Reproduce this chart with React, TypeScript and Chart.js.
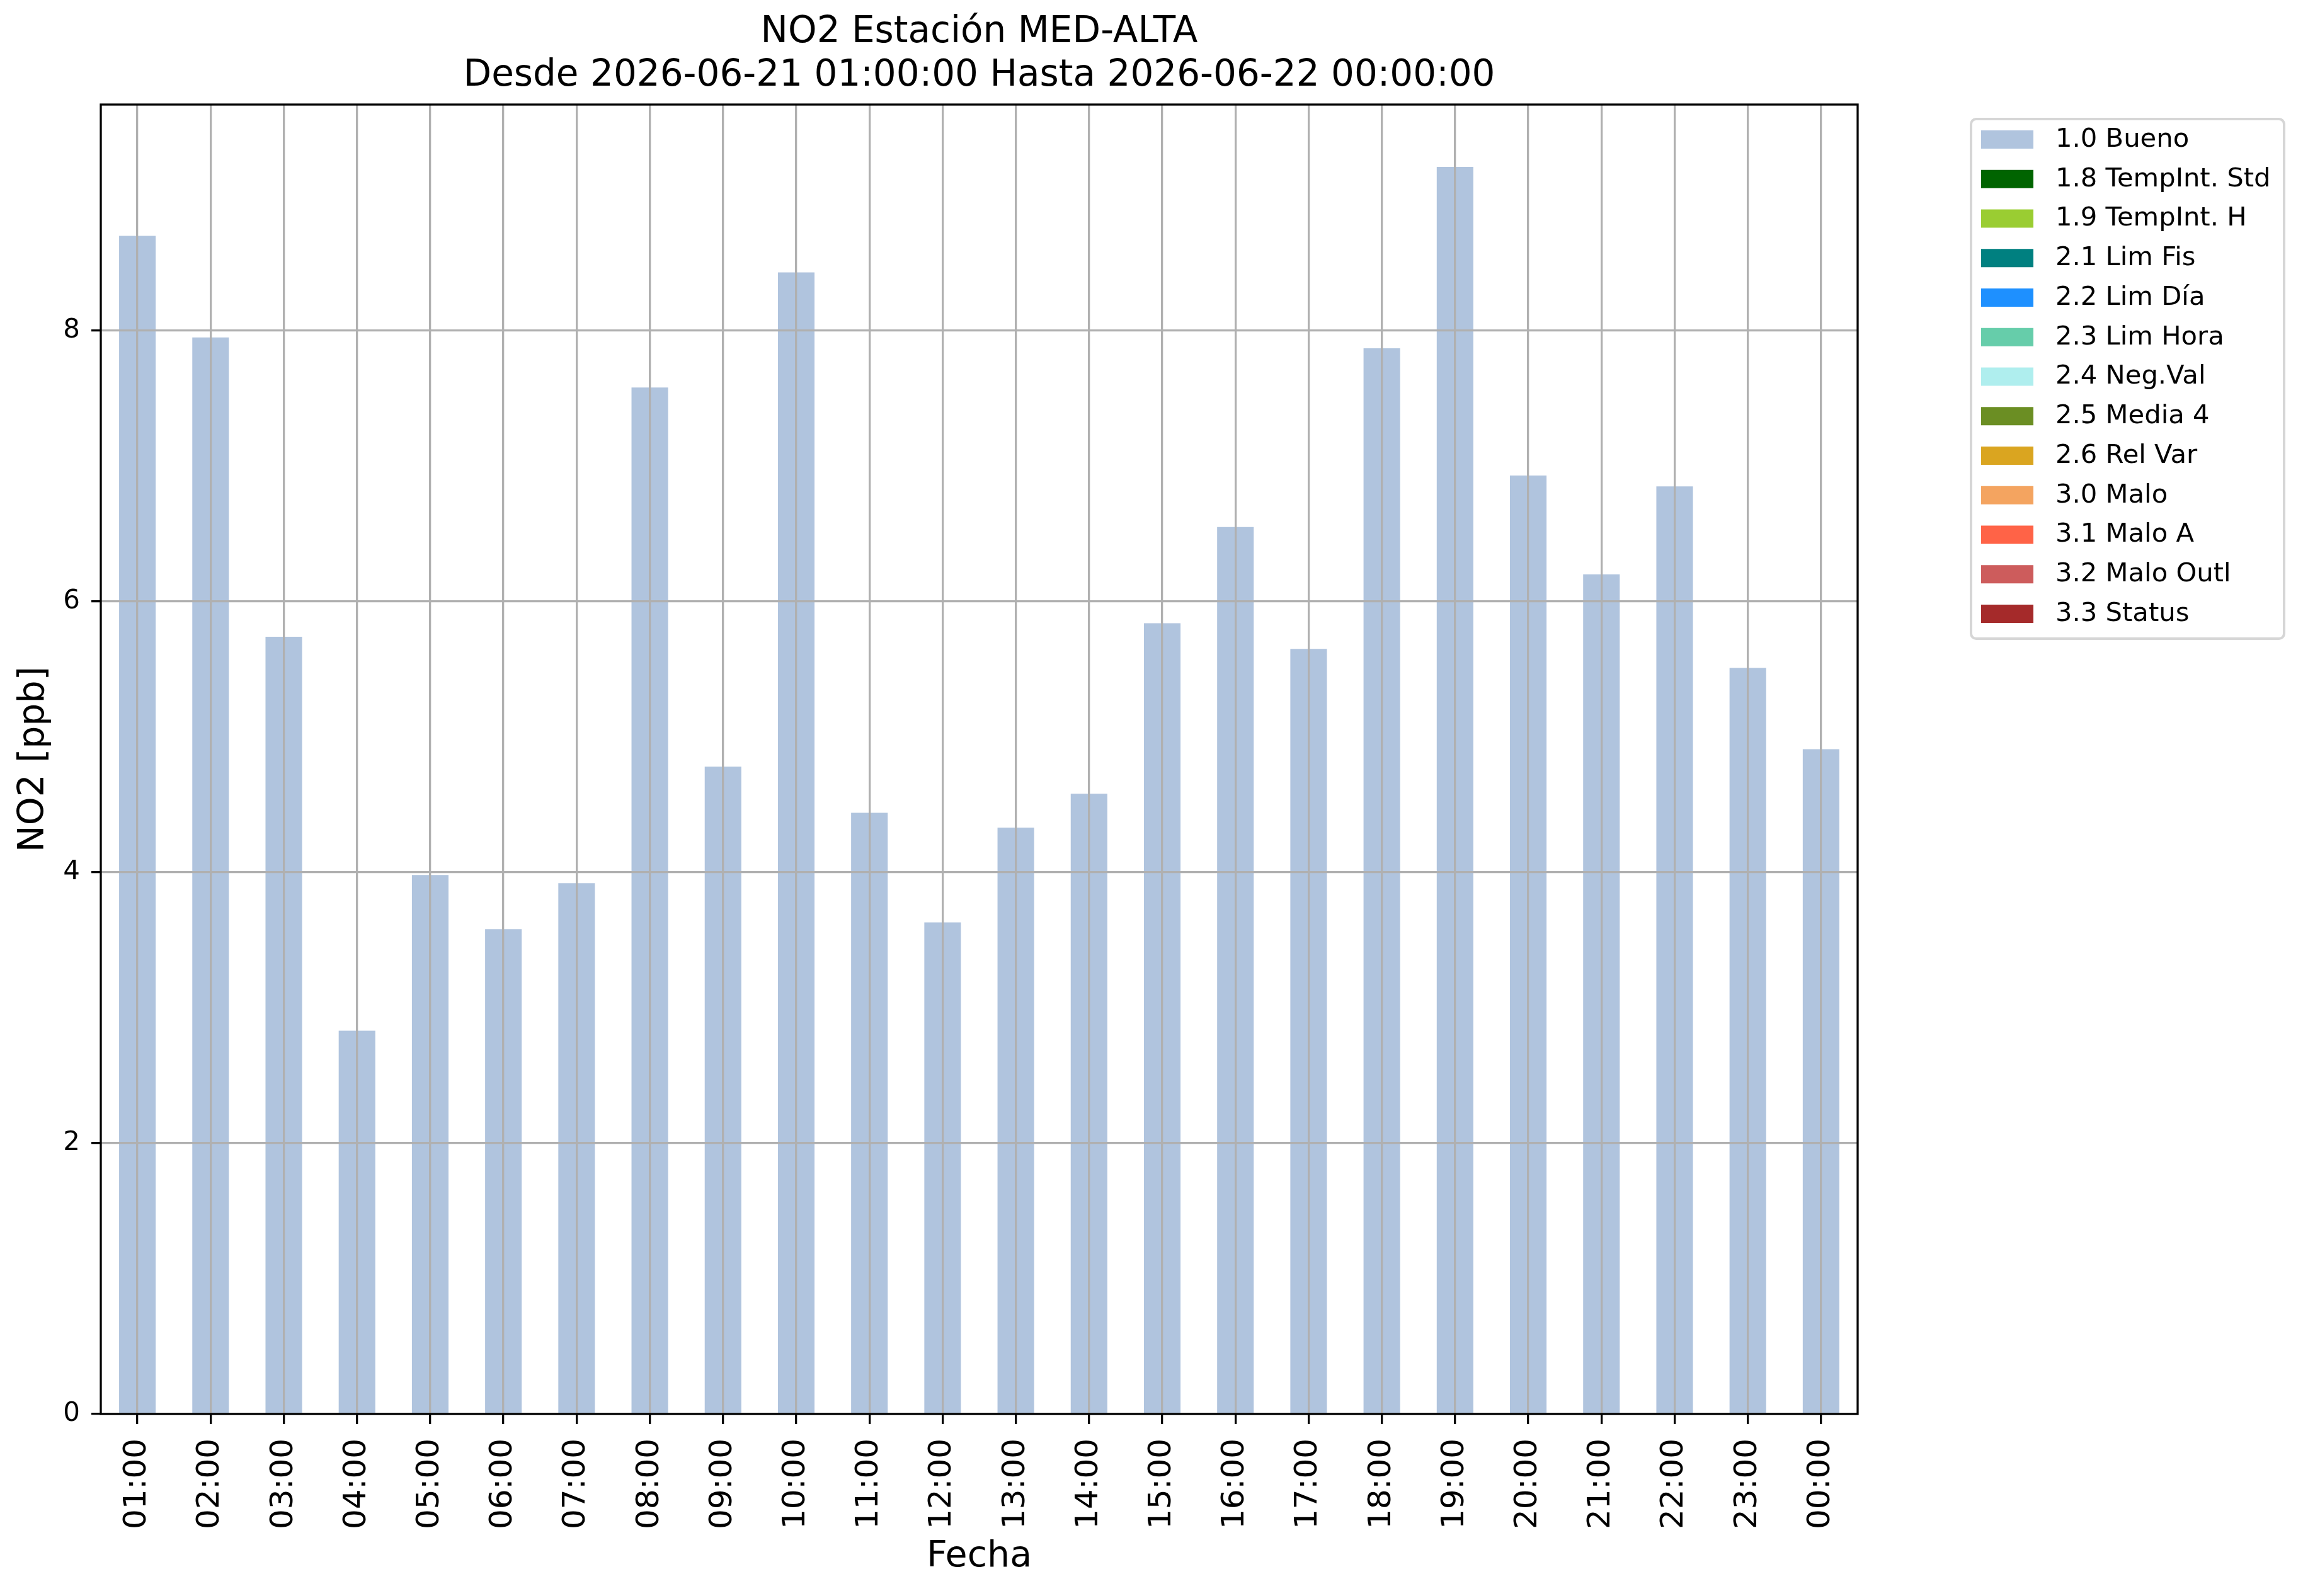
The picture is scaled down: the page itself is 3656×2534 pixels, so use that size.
import { useEffect, useRef } from 'react';
import { Chart, registerables, type Plugin } from 'chart.js';

Chart.register(...registerables);

const FONT = "'DejaVu Sans', sans-serif";

// hourly NO2 readings (ppb)
const hours = [
  '01:00', '02:00', '03:00', '04:00', '05:00', '06:00', '07:00', '08:00',
  '09:00', '10:00', '11:00', '12:00', '13:00', '14:00', '15:00', '16:00',
  '17:00', '18:00', '19:00', '20:00', '21:00', '22:00', '23:00', '00:00',
];
const no2Values = [
  8.7, 7.95, 5.74, 2.83, 3.98, 3.58, 3.92, 7.58,
  4.78, 8.43, 4.44, 3.63, 4.33, 4.58, 5.84, 6.55,
  5.65, 7.87, 9.21, 6.93, 6.2, 6.85, 5.51, 4.91,
];

// validation flags: only "1.0 Bueno" has data in this window
const flagLabels = [
  '1.0 Bueno', '1.8 TempInt. Std', '1.9 TempInt. H', '2.1 Lim Fis',
  '2.2 Lim Día', '2.3 Lim Hora', '2.4 Neg.Val', '2.5 Media 4',
  '2.6 Rel Var', '3.0 Malo', '3.1 Malo A', '3.2 Malo Outl', '3.3 Status',
];
const flagColors = [
  '#b0c4de', '#006400', '#9acd32', '#008080',
  '#1e90ff', '#66cdaa', '#afeeee', '#6b8e23',
  '#daa520', '#f4a460', '#ff6347', '#cd5c5c', '#a52a2a',
];

const yTicks = [0, 2, 4, 6, 8];
const yMax = 9.67;
const titleLines = [
  'NO2 Estación MED-ALTA',
  'Desde 2026-06-21 01:00:00 Hasta 2026-06-22 00:00:00',
];

// black box around the plot area, like matplotlib spines
const axesFrame: Plugin<'bar'> = {
  id: 'axesFrame',
  afterDraw(chart) {
    const { ctx, chartArea: a } = chart;
    ctx.save();
    ctx.strokeStyle = '#000';
    ctx.lineWidth = 3.3;
    ctx.strokeRect(a.left, a.top, a.right - a.left, a.bottom - a.top);
    ctx.restore();
  },
};

// framed legend outside the plot, to the right
const boxLegend: Plugin<'bar'> = {
  id: 'boxLegend',
  afterDraw(chart) {
    const { ctx, chartArea: a } = chart;
    const x0 = a.right + 180;
    const y0 = a.top + 23;
    const w = 497;
    const h = 825;
    ctx.save();
    ctx.fillStyle = 'rgba(255,255,255,0.8)';
    ctx.strokeStyle = '#d6d6d6';
    ctx.lineWidth = 4;
    ctx.beginPath();
    ctx.roundRect(x0, y0, w, h, 8);
    ctx.fill();
    ctx.stroke();
    ctx.font = `41.7px ${FONT}`;
    ctx.textBaseline = 'middle';
    ctx.textAlign = 'left';
    chart.data.datasets.forEach((ds, i) => {
      const top = y0 + 18 + i * 62.75;
      ctx.fillStyle = ds.backgroundColor as string;
      ctx.fillRect(x0 + 16, top, 83, 29);
      ctx.fillStyle = '#000';
      ctx.fillText(ds.label ?? '', x0 + 134, top + 15);
    });
    ctx.restore();
  },
};

export default function App() {
  const canvasRef = useRef<HTMLCanvasElement | null>(null);

  useEffect(() => {
    const canvas = canvasRef.current;
    if (!canvas) return;

    const chart = new Chart(canvas, {
      type: 'bar',
      data: {
        labels: hours,
        datasets: flagLabels.map((label, i) => ({
          label,
          data: i === 0 ? no2Values : [],
          backgroundColor: flagColors[i],
          borderWidth: 0,
          grouped: false,
          categoryPercentage: 1,
          barPercentage: 0.5,
        })),
      },
      options: {
        animation: false,
        responsive: true,
        maintainAspectRatio: false,
        devicePixelRatio: 1,
        layout: { padding: { left: 0, top: 0, right: 707, bottom: 0 } },
        plugins: {
          legend: { display: false },
          tooltip: { enabled: false },
          title: {
            display: true,
            fullSize: false,
            text: titleLines,
            color: '#000',
            font: { family: FONT, size: 58, weight: 'normal', lineHeight: 1.2 },
            padding: { top: 17, bottom: 9.8 },
          },
        },
        scales: {
          x: {
            type: 'category',
            offset: true,
            grid: {
              z: 1,
              offset: false,
              color: '#b0b0b0',
              lineWidth: 3.3,
              tickLength: 16,
              tickColor: '#000',
              tickWidth: 3.3,
            },
            border: { display: false },
            ticks: {
              autoSkip: false,
              maxRotation: 90,
              minRotation: 90,
              padding: 23,
              color: '#000',
              font: { family: FONT, size: 50 },
            },
            title: {
              display: true,
              text: 'Fecha',
              color: '#000',
              font: { family: FONT, size: 57, lineHeight: 1.2 },
              padding: { top: 0, bottom: 28 },
            },
            afterFit: (s) => {
              s.height = 289;
            },
          },
          y: {
            min: 0,
            max: yMax,
            afterBuildTicks: (s) => {
              s.ticks = yTicks.map((value) => ({ value }));
            },
            grid: {
              z: 1,
              color: '#b0b0b0',
              lineWidth: 3.3,
              tickLength: 15,
              tickColor: '#000',
              tickWidth: 3.3,
            },
            border: { display: false },
            ticks: {
              padding: 18,
              color: '#000',
              font: { family: FONT, size: 42 },
            },
            title: {
              display: true,
              text: 'NO2 [ppb]',
              color: '#000',
              font: { family: FONT, size: 57, lineHeight: 1.2 },
              padding: { top: 20, bottom: 0 },
            },
            afterFit: (s) => {
              s.width = 160;
            },
          },
        },
      },
      plugins: [axesFrame, boxLegend],
    });

    return () => {
      chart.destroy();
    };
  }, []);

  return (
    <div
      style={{
        position: 'absolute',
        left: 0,
        top: 0,
        width: 3656,
        height: 2534,
        background: '#fff',
      }}
    >
      <canvas ref={canvasRef} />
    </div>
  );
}
